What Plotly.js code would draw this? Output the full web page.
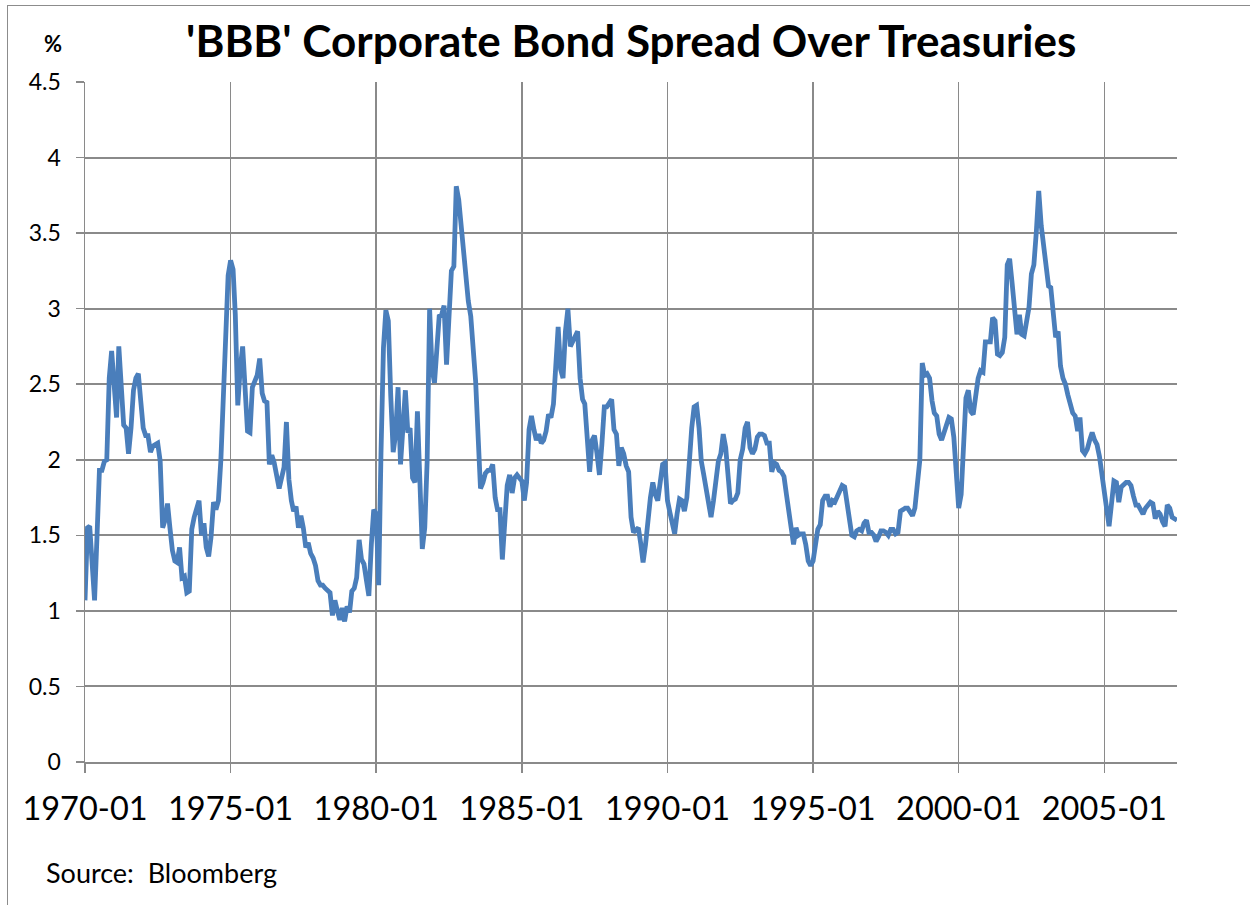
<!DOCTYPE html>
<html>
<head>
<meta charset="utf-8">
<script src="https://cdn.plot.ly/plotly-3.0.1.min.js"></script>
<style>
  html, body { margin: 0; padding: 0; background: #ffffff; }
  #frame { position: absolute; left: 7px; top: 5px; width: 1400px; height: 1000px;
           border-left: 1.5px solid #8c8c8c; border-top: 1.5px solid #8c8c8c; }
  #chart { position: absolute; left: 0; top: 0; width: 1250px; height: 905px; }
</style>
</head>
<body>
<div id="frame"></div>
<div id="chart"></div>
<script>
// Monthly 'BBB' spread over Treasuries (%), starting 1970-01
const startYear = 1970;
const spread1970s = [
  1.07, 1.55, 1.56, 1.25, 1.07, 1.50, 1.93, 1.93, 1.99, 2.00, 2.54, 2.72,
  2.45, 2.28, 2.75, 2.50, 2.23, 2.21, 2.04, 2.21, 2.46, 2.54, 2.57, 2.39,
  2.21, 2.16, 2.16, 2.05, 2.09, 2.10, 2.11, 1.99, 1.55, 1.60, 1.71, 1.55,
  1.40, 1.33, 1.32, 1.42, 1.22, 1.23, 1.12, 1.13, 1.54, 1.62, 1.68, 1.73,
  1.50, 1.58, 1.42, 1.36, 1.49, 1.72, 1.67, 1.73, 2.00, 2.45, 2.90, 3.22,
  3.32, 3.26, 2.96, 2.36, 2.60, 2.75, 2.48, 2.19, 2.18, 2.48, 2.52, 2.56,
  2.67, 2.44, 2.39, 2.38, 1.97, 2.03, 1.98, 1.87, 1.81, 1.88, 1.95, 2.25,
  1.87, 1.73, 1.66, 1.69, 1.55, 1.63, 1.55, 1.42, 1.45, 1.38, 1.35, 1.30,
  1.20, 1.17, 1.17, 1.15, 1.13, 1.12, 0.97, 1.07, 1.00, 0.94, 1.02, 0.93,
  1.03, 0.99, 1.13, 1.15, 1.22, 1.47, 1.34, 1.31, 1.20, 1.10, 1.44, 1.67
];
const spread1980s = [
  1.64, 1.17, 2.04, 2.74, 2.99, 2.92, 2.43, 2.05, 2.17, 2.48, 1.97, 2.26,
  2.46, 2.18, 2.21, 1.88, 1.85, 2.32, 1.86, 1.41, 1.55, 1.99, 3.00, 2.60,
  2.51, 2.81, 2.95, 2.96, 3.02, 2.63, 2.92, 3.25, 3.28, 3.81, 3.72, 3.55,
  3.35, 3.18, 3.05, 2.95, 2.76, 2.52, 2.17, 1.81, 1.85, 1.91, 1.93, 1.93,
  1.97, 1.75, 1.67, 1.67, 1.34, 1.55, 1.83, 1.90, 1.78, 1.88, 1.90, 1.88,
  1.86, 1.73, 1.85, 2.20, 2.29, 2.20, 2.13, 2.17, 2.11, 2.13, 2.19, 2.30,
  2.28, 2.37, 2.65, 2.88, 2.60, 2.54, 2.85, 3.00, 2.75, 2.78, 2.81, 2.85,
  2.54, 2.40, 2.37, 2.08, 1.92, 2.13, 2.16, 2.04, 1.90, 2.10, 2.35, 2.35,
  2.38, 2.40, 2.20, 2.17, 1.96, 2.08, 2.04, 1.96, 1.92, 1.62, 1.52, 1.54,
  1.55, 1.44, 1.32, 1.44, 1.62, 1.75, 1.85, 1.77, 1.73, 1.84, 1.97, 1.98
];
const spread1990s = [
  1.73, 1.65, 1.58, 1.51, 1.64, 1.74, 1.73, 1.66, 1.75, 2.01, 2.21, 2.35,
  2.36, 2.21, 1.99, 1.90, 1.79, 1.68, 1.62, 1.73, 1.86, 1.99, 2.04, 2.17,
  2.08, 1.88, 1.71, 1.73, 1.74, 1.78, 2.00, 2.07, 2.21, 2.25, 2.08, 2.04,
  2.07, 2.15, 2.17, 2.17, 2.16, 2.11, 2.11, 1.92, 1.98, 1.97, 1.93, 1.92,
  1.89, 1.77, 1.64, 1.55, 1.44, 1.55, 1.50, 1.51, 1.51, 1.44, 1.33, 1.30,
  1.33, 1.46, 1.54, 1.57, 1.73, 1.76, 1.76, 1.69, 1.73, 1.72, 1.76, 1.81,
  1.83, 1.82, 1.73, 1.60, 1.50, 1.49, 1.53, 1.54, 1.53, 1.58, 1.60, 1.52,
  1.52, 1.50, 1.46, 1.49, 1.53, 1.53, 1.52, 1.50, 1.54, 1.54, 1.51, 1.52,
  1.66, 1.67, 1.68, 1.68, 1.65, 1.63, 1.68, 1.82, 2.00, 2.64, 2.56, 2.57,
  2.54, 2.39, 2.31, 2.29, 2.17, 2.13, 2.17, 2.23, 2.28, 2.27, 2.15, 1.93
];
const spread2000s = [
  1.68, 1.77, 2.15, 2.41, 2.46, 2.32, 2.30, 2.43, 2.54, 2.59, 2.58, 2.78,
  2.78, 2.78, 2.94, 2.92, 2.70, 2.69, 2.71, 2.81, 3.29, 3.33, 3.17, 2.99,
  2.83, 2.96, 2.83, 2.82, 2.90, 3.01, 3.23, 3.29, 3.51, 3.78, 3.55, 3.40,
  3.25, 3.15, 3.14, 2.92, 2.81, 2.85, 2.62, 2.54, 2.50, 2.43, 2.35, 2.31,
  2.29, 2.19, 2.28, 2.06, 2.04, 2.07, 2.13, 2.18, 2.13, 2.10, 2.02, 1.90,
  1.78, 1.62, 1.56, 1.71, 1.86, 1.85, 1.72, 1.82, 1.84, 1.85, 1.85, 1.83,
  1.76, 1.70, 1.70, 1.67, 1.64, 1.68, 1.70, 1.72, 1.71, 1.61, 1.66, 1.64,
  1.59, 1.56, 1.70, 1.68, 1.62, 1.61, 1.60
];
const tickYears = [1970, 1975, 1980, 1985, 1990, 1995, 2000, 2005];
const tickLabels = ['1970-01', '1975-01', '1980-01', '1985-01', '1990-01', '1995-01', '2000-01', '2005-01'];

const values = [].concat(spread1970s, spread1980s, spread1990s, spread2000s);
const dates = values.map(function (v, i) {
  const y = startYear + Math.floor(i / 12);
  const m = (i % 12) + 1;
  return y + '-' + (m < 10 ? '0' + m : m) + '-01';
});
const lastDate = dates[dates.length - 1];

const FONT = 'Lato, Carlito, Calibri, "Open Sans", sans-serif';
const GRID = '#8a8a8a';

const trace = {
  x: dates, y: values, type: 'scatter', mode: 'lines',
  line: { color: '#4a7ebb', width: 4.8, shape: 'linear' },
  hoverinfo: 'x+y'
};

const layout = {
  width: 1250, height: 905,
  paper_bgcolor: 'rgba(0,0,0,0)', plot_bgcolor: 'rgba(0,0,0,0)',
  margin: { l: 85, r: 73, t: 82, b: 143 },
  showlegend: false,
  font: { family: FONT, color: '#000000' },
  title: {
    text: "<b>'BBB' Corporate Bond Spread Over Treasuries</b>",
    font: { family: FONT, size: 44, color: '#000000' },
    x: 0.505, xref: 'container', xanchor: 'center',
    y: 0.954, yref: 'container', yanchor: 'middle'
  },
  xaxis: {
    type: 'date',
    range: [dates[0], lastDate],
    tickvals: tickYears.map(function (y) { return y + '-01-01'; }),
    ticktext: tickLabels,
    tickfont: { family: FONT, size: 32.5, color: '#000000' },
    ticks: 'outside', ticklen: 9, tickwidth: 1.5, tickcolor: GRID,
    showgrid: true, gridcolor: GRID, gridwidth: 1.5,
    showline: true, linecolor: GRID, linewidth: 2,
    zeroline: false, fixedrange: true,
    ticklabelstandoff: 8
  },
  yaxis: {
    range: [0, 4.5], dtick: 0.5, tick0: 0,
    tickfont: { family: FONT, size: 23, color: '#000000' },
    ticks: 'outside', ticklen: 8, tickwidth: 1.5, tickcolor: GRID,
    showgrid: true, gridcolor: GRID, gridwidth: 2,
    showline: true, linecolor: GRID, linewidth: 1.5,
    zeroline: false, fixedrange: true,
    ticklabelstandoff: 10
  },
  annotations: [
    { text: '<b>%</b>', xref: 'paper', yref: 'paper', x: -0.0293, y: 1.056,
      xanchor: 'center', yanchor: 'middle', showarrow: false,
      font: { family: FONT, size: 22, color: '#000000' } },
    { text: 'Source:  Bloomberg', xref: 'paper', yref: 'paper', x: -0.0375, y: -0.163,
      xanchor: 'left', yanchor: 'middle', showarrow: false,
      font: { family: FONT, size: 27, color: '#000000' } }
  ]
};

Plotly.newPlot('chart', [trace], layout, { displayModeBar: false, staticPlot: true });
</script>
</body>
</html>
